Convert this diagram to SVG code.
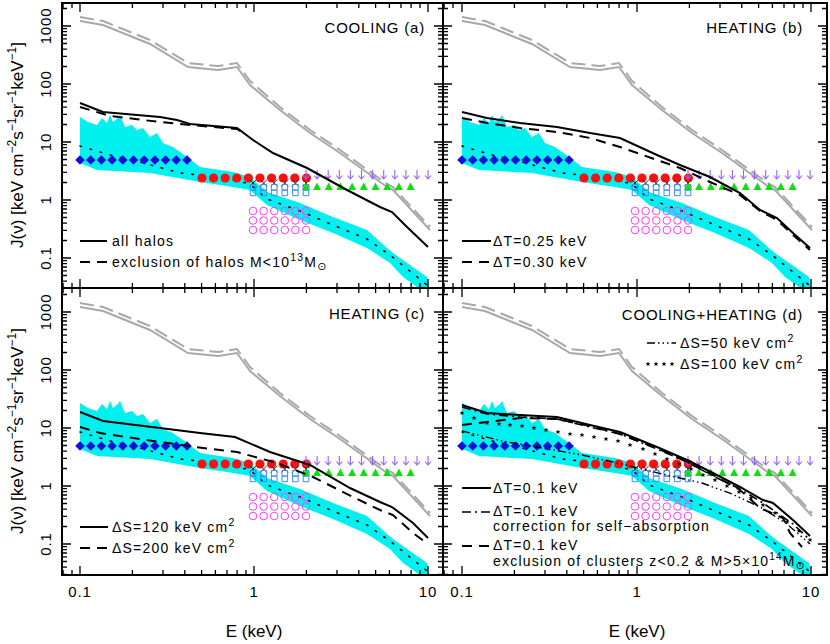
<svg xmlns="http://www.w3.org/2000/svg" xmlns:xlink="http://www.w3.org/1999/xlink" width="830" height="644" viewBox="0 0 830 644">
<style>
text{font-family:"Liberation Sans","DejaVu Sans",sans-serif;fill:#000}
.t{font-size:15px;letter-spacing:0.8px}
.lg{font-size:14px;letter-spacing:1.2px}
.fr{fill:none;stroke:#000;stroke-width:2}
.tk{fill:none;stroke:#000;stroke-width:1.3}
.gr{fill:none;stroke:#a8a8a8;stroke-width:2}
.grd{fill:none;stroke:#a8a8a8;stroke-width:2;stroke-dasharray:14 6}
.bk{fill:none;stroke:#000;stroke-width:2}
.bd{fill:none;stroke:#000;stroke-width:2;stroke-dasharray:10 7}
.bdd{fill:none;stroke:#000;stroke-width:1.6;stroke-dasharray:9 4 2 4}
.bd3{fill:none;stroke:#000;stroke-width:1.4;stroke-dasharray:8 3 1.5 3 1.5 3 1.5 3}
.dot{fill:none;stroke:#000;stroke-width:1.6;stroke-dasharray:1.5 9;stroke-linecap:round}
.band{fill:#00f0f0}
</style>
<defs>
<clipPath id="cA"><rect x="62" y="3" width="381" height="285"/></clipPath>
<clipPath id="cB"><rect x="443" y="3" width="384" height="285"/></clipPath>
<clipPath id="cC"><rect x="62" y="288" width="381" height="287"/></clipPath>
<clipPath id="cD"><rect x="443" y="288" width="384" height="287"/></clipPath>
<path id="ydL" class="tk" d="M0,0h9M0,-17.5h5M0,-27.7h5M0,-34.9h5M0,-40.5h5M0,-45.1h5M0,-49h5M0,-52.4h5M0,-55.3h5"/>
<path id="ydR" class="tk" d="M0,0h-9M0,-17.5h-5M0,-27.7h-5M0,-34.9h-5M0,-40.5h-5M0,-45.1h-5M0,-49h-5M0,-52.4h-5M0,-55.3h-5"/>
<path id="xdB" class="tk" d="M0,0v-9M52.4,0v-5M83,0v-5M104.8,0v-5M121.6,0v-5M135.4,0v-5M147,0v-5M157.1,0v-5M166,0v-5"/>
<path id="xdT" class="tk" d="M0,0v9M52.4,0v5M83,0v5M104.8,0v5M121.6,0v5M135.4,0v5M147,0v5M157.1,0v5M166,0v5"/>
<path id="dia" d="M0,-4.8L4.8,0L0,4.8L-4.8,0Z" fill="#1010d8"/>
<circle id="red" r="4.6" fill="#ff1010"/>
<path id="crs" d="M-3.5,-3.5L3.5,3.5M-3.5,3.5L3.5,-3.5" stroke="#333" stroke-width="1" fill="none"/>
<path id="sq" d="M-2.8,-15.5h5.6v5.6h-5.6zM-2.8,-9.9h5.6v5.6h-5.6z" stroke="#3a8cff" stroke-width="1" fill="none"/>
<circle id="mg" r="3.8" stroke="#ff40ff" stroke-width="1" fill="none"/>
<path id="arr" d="M0,-30V-21M-3,-24.5L0,-21L3,-24.5" stroke="#9960ff" stroke-width="1.1" fill="none"/>
<path id="tri" d="M0,-17.5L4,-10L-4,-10Z" fill="#10dd10"/>
<path id="star" d="M0,-2.6L0.7,-0.8L2.5,-0.8L1.1,0.3L1.6,2.1L0,1L-1.6,2.1L-1.1,0.3L-2.5,-0.8L-0.7,-0.8Z" fill="#000"/>
<g id="common">
<path class="band" d="M0,-83L8,-78L17,-75L22,-82L27,-77L30,-85L33,-78L38,-82L40,-85L45,-73L52,-75L57,-70L63,-72L70,-63L77,-67L83,-57L93,-53L107,-43L120,-33L153,-28L170,-23L187,-8L220,3L253,17L287,30L307,48L313,53L347,77L350,92L337,87L323,77L310,63L287,48L253,33L220,20L187,5L170,-10L153,-13L120,-18L70,-27L17,-30L0,-37Z"/>
<path class="dot" d="M0,-54L30,-45L60,-38L100,-27L120,-25L153,-20L170,-16L187,-1L220,11L253,25L287,39L310,55L347,85"/>
<path class="gr" d="M0,-179L23,-175L70,-156L108,-133L138,-130L157,-133L170,-115L200,-90L230,-67L260,-47L307,-13L313,-10L350,30"/>
<path class="grd" d="M0,-183L23,-179L70,-160L108,-137L138,-134L157,-137L170,-119L200,-93L230,-70L260,-50L307,-16L313,-13L350,27"/>
<g>
<use href="#dia" x="0" y="-40"/><use href="#dia" x="10.7" y="-40"/><use href="#dia" x="21.4" y="-40"/><use href="#dia" x="32.1" y="-40"/><use href="#dia" x="42.8" y="-40"/><use href="#dia" x="53.5" y="-40"/><use href="#dia" x="64.2" y="-40"/><use href="#dia" x="74.9" y="-40"/><use href="#dia" x="85.6" y="-40"/><use href="#dia" x="96.3" y="-40"/><use href="#dia" x="107" y="-40"/>
</g>
<g>
<use href="#red" x="122" y="-22"/><use href="#red" x="133.6" y="-22"/><use href="#red" x="145.2" y="-22"/><use href="#red" x="156.8" y="-22"/><use href="#red" x="168.4" y="-22"/><use href="#red" x="180" y="-22"/><use href="#red" x="191.6" y="-22"/><use href="#red" x="203.2" y="-22"/><use href="#red" x="214.8" y="-22"/><use href="#red" x="226.4" y="-22"/>
</g>
<g>
<use href="#crs" x="173" y="-17"/><use href="#crs" x="183.6" y="-17"/><use href="#crs" x="194.2" y="-17"/><use href="#crs" x="204.8" y="-17"/><use href="#crs" x="215.4" y="-17"/><use href="#crs" x="226" y="-17"/>
<use href="#sq" x="173" y="0"/><use href="#sq" x="183.6" y="0"/><use href="#sq" x="194.2" y="0"/><use href="#sq" x="204.8" y="0"/><use href="#sq" x="215.4" y="0"/><use href="#sq" x="226" y="0"/>
</g>
<g>
<use href="#mg" x="173" y="11"/><use href="#mg" x="183.6" y="11"/><use href="#mg" x="194.2" y="11"/><use href="#mg" x="204.8" y="11"/><use href="#mg" x="215.4" y="11"/><use href="#mg" x="226" y="11"/>
<use href="#mg" x="173" y="20.5"/><use href="#mg" x="183.6" y="20.5"/><use href="#mg" x="194.2" y="20.5"/><use href="#mg" x="204.8" y="20.5"/><use href="#mg" x="215.4" y="20.5"/><use href="#mg" x="226" y="20.5"/>
<use href="#mg" x="173" y="30"/><use href="#mg" x="183.6" y="30"/><use href="#mg" x="194.2" y="30"/><use href="#mg" x="204.8" y="30"/><use href="#mg" x="215.4" y="30"/><use href="#mg" x="226" y="30"/>
</g>
<g>
<use href="#arr" x="226"/><use href="#arr" x="237.1"/><use href="#arr" x="248.2"/><use href="#arr" x="259.3"/><use href="#arr" x="270.4"/><use href="#arr" x="281.5"/><use href="#arr" x="292.6"/><use href="#arr" x="303.7"/><use href="#arr" x="314.8"/><use href="#arr" x="325.9"/><use href="#arr" x="337"/><use href="#arr" x="348.1"/>
</g>
<g>
<use href="#tri" x="226"/><use href="#tri" x="237"/><use href="#tri" x="248.7"/><use href="#tri" x="260.4"/><use href="#tri" x="272.1"/><use href="#tri" x="283.8"/><use href="#tri" x="295.5"/><use href="#tri" x="307.2"/><use href="#tri" x="318.9"/><use href="#tri" x="330.6"/>
</g>
</g>
<g id="yl">
<text class="t" transform="rotate(-90 51 26)" x="51" y="26" text-anchor="middle">1000</text>
<text class="t" transform="rotate(-90 51 84)" x="51" y="84" text-anchor="middle">100</text>
<text class="t" transform="rotate(-90 51 142)" x="51" y="142" text-anchor="middle">10</text>
<text class="t" transform="rotate(-90 51 200)" x="51" y="200" text-anchor="middle">1</text>
<text class="t" transform="rotate(-90 51 258)" x="51" y="258" text-anchor="middle">0.1</text>
<text transform="rotate(-90 23 145)" x="23" y="145" text-anchor="middle" font-size="17">J(ν)  [keV cm<tspan font-size="12" dy="-7">−2</tspan><tspan dy="7">s</tspan><tspan font-size="12" dy="-7">−1</tspan><tspan dy="7">sr</tspan><tspan font-size="12" dy="-7">−1</tspan><tspan dy="7">keV</tspan><tspan font-size="12" dy="-7">−1</tspan><tspan dy="7">]</tspan></text>
</g>
</defs>

<g id="panel-a">
<g clip-path="url(#cA)">
<g transform="translate(80,200)">
<use href="#common"/>
<path class="bk" d="M0,-97L23,-88L80,-83L97,-80L110,-76L157,-72L173,-60L193,-47L227,-32L267,-10L300,7L312,12L327,27L348,47"/>
<path class="bd" d="M0,-93L30,-84L80,-78L110,-75L157,-71L165,-66"/>
</g>
<use href="#ydL" x="62" y="26"/><use href="#ydL" x="62" y="84"/><use href="#ydL" x="62" y="142"/><use href="#ydL" x="62" y="200"/><use href="#ydL" x="62" y="258"/><use href="#ydL" x="62" y="316"/>
<use href="#ydR" x="443" y="26"/><use href="#ydR" x="443" y="84"/><use href="#ydR" x="443" y="142"/><use href="#ydR" x="443" y="200"/><use href="#ydR" x="443" y="258"/><use href="#ydR" x="443" y="316"/>
<use href="#xdB" x="-94" y="288"/><use href="#xdB" x="80" y="288"/><use href="#xdB" x="254" y="288"/><use href="#xdB" x="428" y="288"/>
<use href="#xdT" x="-94" y="3"/><use href="#xdT" x="80" y="3"/><use href="#xdT" x="254" y="3"/><use href="#xdT" x="428" y="3"/>
</g>
<text class="t" x="425" y="33" text-anchor="end">COOLING (a)</text>
<path class="bk" d="M80,241H107"/><text class="lg" x="112" y="246">all halos</text>
<path class="bd" d="M80,262H110"/><text class="lg" x="112" y="267">exclusion of halos M&lt;10<tspan font-size="10.5" dy="-6">13</tspan><tspan dy="6">M</tspan><tspan font-size="11" dy="3">⊙</tspan></text>
</g>

<g id="panel-b">
<g clip-path="url(#cB)">
<g transform="translate(462,200)">
<use href="#common"/>
<path class="bk" d="M0,-88L25,-82L58,-77L95,-73L128,-67L158,-62L195,-45L218,-35L248,-23L278,-7L298,10L315,18L331,33L348,48"/>
<path class="bd" d="M0,-82L25,-77L58,-72L95,-68L128,-62L158,-53L195,-40L218,-32L248,-18L278,-5L298,11L315,20L331,35L348,50"/>
</g>
<use href="#ydL" x="443" y="26"/><use href="#ydL" x="443" y="84"/><use href="#ydL" x="443" y="142"/><use href="#ydL" x="443" y="200"/><use href="#ydL" x="443" y="258"/><use href="#ydL" x="443" y="316"/>
<use href="#ydR" x="827" y="26"/><use href="#ydR" x="827" y="84"/><use href="#ydR" x="827" y="142"/><use href="#ydR" x="827" y="200"/><use href="#ydR" x="827" y="258"/><use href="#ydR" x="827" y="316"/>
<use href="#xdB" x="287" y="288"/><use href="#xdB" x="462" y="288"/><use href="#xdB" x="637" y="288"/><use href="#xdB" x="811" y="288"/>
<use href="#xdT" x="287" y="3"/><use href="#xdT" x="462" y="3"/><use href="#xdT" x="637" y="3"/><use href="#xdT" x="811" y="3"/>
</g>
<text class="t" x="803" y="33" text-anchor="end">HEATING (b)</text>
<path class="bk" d="M462,241H491"/><text class="lg" x="493" y="246">ΔT=0.25  keV</text>
<path class="bd" d="M462,262H492"/><text class="lg" x="493" y="267">ΔT=0.30  keV</text>
</g>

<g id="panel-c">
<g clip-path="url(#cC)">
<g transform="translate(80,486)">
<use href="#common"/>
<path class="bk" d="M0,-74L23,-65L80,-58L120,-53L155,-49L190,-34L230,-21L270,2L300,16L312,21L333,37L348,52"/>
<path class="bd" d="M0,-59L20,-53L80,-44L123,-38L157,-34L197,-23L233,-9L273,11L300,24L313,29L333,47L348,58"/>
</g>
<use href="#ydL" x="62" y="312"/><use href="#ydL" x="62" y="370"/><use href="#ydL" x="62" y="428"/><use href="#ydL" x="62" y="486"/><use href="#ydL" x="62" y="544"/><use href="#ydL" x="62" y="602"/>
<use href="#ydR" x="443" y="312"/><use href="#ydR" x="443" y="370"/><use href="#ydR" x="443" y="428"/><use href="#ydR" x="443" y="486"/><use href="#ydR" x="443" y="544"/><use href="#ydR" x="443" y="602"/>
<use href="#xdB" x="-94" y="575"/><use href="#xdB" x="80" y="575"/><use href="#xdB" x="254" y="575"/><use href="#xdB" x="428" y="575"/>
<use href="#xdT" x="-94" y="288"/><use href="#xdT" x="80" y="288"/><use href="#xdT" x="254" y="288"/><use href="#xdT" x="428" y="288"/>
</g>
<text class="t" x="425" y="319" text-anchor="end">HEATING (c)</text>
<path class="bk" d="M80,527H108"/><text class="lg" x="112" y="532">ΔS=120  keV  cm<tspan font-size="10.5" dy="-6">2</tspan></text>
<path class="bd" d="M80,548H110"/><text class="lg" x="112" y="553">ΔS=200  keV  cm<tspan font-size="10.5" dy="-6">2</tspan></text>
</g>

<g id="panel-d">
<g clip-path="url(#cD)">
<g transform="translate(462,486)">
<use href="#common"/>
<path class="bd3" d="M0,-55L40,-45L80,-38L120,-31L160,-22L200,-12L240,-3L270,8L300,22L325,38L348,58"/>
<path class="bd" d="M0,-61L25,-64L58,-68L95,-67L128,-60L158,-52L195,-38L225,-24L251,-11L278,4L298,22L321,32L328,47L340,61"/>
<path class="bdd" d="M0,-79L25,-72L58,-69L95,-67L128,-59L158,-52L195,-37L225,-24L251,-10L278,3L301,17L331,38L348,54"/>
<path class="bk" d="M0,-81L25,-73L58,-71L95,-69L128,-61L158,-54L195,-39L225,-26L251,-13L278,1L301,14L311,17L331,34L348,50"/>
<g>
<use href="#star" x="0" y="-73"/><use href="#star" x="12" y="-68"/><use href="#star" x="25" y="-63"/><use href="#star" x="37" y="-62"/><use href="#star" x="48" y="-61"/><use href="#star" x="60" y="-60"/><use href="#star" x="72" y="-58"/><use href="#star" x="84" y="-56"/><use href="#star" x="96" y="-54"/><use href="#star" x="108" y="-52"/><use href="#star" x="120" y="-51"/><use href="#star" x="132" y="-49"/><use href="#star" x="144" y="-47"/><use href="#star" x="156" y="-45"/><use href="#star" x="168" y="-41"/><use href="#star" x="181" y="-37"/><use href="#star" x="193" y="-32"/><use href="#star" x="205" y="-27"/><use href="#star" x="217" y="-22"/><use href="#star" x="229" y="-17"/><use href="#star" x="241" y="-11"/><use href="#star" x="253" y="-6"/><use href="#star" x="265" y="0"/><use href="#star" x="277" y="6"/><use href="#star" x="289" y="12"/><use href="#star" x="301" y="19"/><use href="#star" x="313" y="27"/><use href="#star" x="325" y="36"/><use href="#star" x="337" y="45"/><use href="#star" x="348" y="54"/>
</g>
</g>
<use href="#ydL" x="443" y="312"/><use href="#ydL" x="443" y="370"/><use href="#ydL" x="443" y="428"/><use href="#ydL" x="443" y="486"/><use href="#ydL" x="443" y="544"/><use href="#ydL" x="443" y="602"/>
<use href="#ydR" x="827" y="312"/><use href="#ydR" x="827" y="370"/><use href="#ydR" x="827" y="428"/><use href="#ydR" x="827" y="486"/><use href="#ydR" x="827" y="544"/><use href="#ydR" x="827" y="602"/>
<use href="#xdB" x="287" y="575"/><use href="#xdB" x="462" y="575"/><use href="#xdB" x="637" y="575"/><use href="#xdB" x="811" y="575"/>
<use href="#xdT" x="287" y="288"/><use href="#xdT" x="462" y="288"/><use href="#xdT" x="637" y="288"/><use href="#xdT" x="811" y="288"/>
</g>
<text class="t" x="803" y="320" text-anchor="end">COOLING+HEATING (d)</text>
<path class="bd3" d="M647,343H676"/><text class="lg" x="680" y="348">ΔS=50   keV  cm<tspan font-size="10.5" dy="-6">2</tspan></text>
<g><use href="#star" x="648" y="364"/><use href="#star" x="656" y="364"/><use href="#star" x="664" y="364"/><use href="#star" x="672" y="364"/></g>
<text class="lg" x="680" y="369">ΔS=100  keV  cm<tspan font-size="10.5" dy="-6">2</tspan></text>
<path class="bk" d="M462,488H491"/><text class="lg" x="493" y="493">ΔT=0.1  keV</text>
<path class="bdd" d="M462,512H492"/><text class="lg" x="493" y="516" font-size="13.5">ΔT=0.1  keV</text>
<text class="lg" x="493" y="531" font-size="13.5">correction for self−absorption</text>
<path class="bd" d="M462,546H492"/><text class="lg" x="493" y="550" font-size="13.5">ΔT=0.1  keV</text>
<text class="lg" x="493" y="566" font-size="13.5">exclusion of clusters z&lt;0.2 &amp; M&gt;5×10<tspan font-size="10" dy="-6">14</tspan><tspan dy="6">M</tspan><tspan font-size="10.5" dy="3">⊙</tspan></text>
</g>

<g id="frames">
<rect class="fr" x="62" y="3" width="381" height="285"/>
<rect class="fr" x="443" y="3" width="384" height="285"/>
<rect class="fr" x="62" y="288" width="381" height="287"/>
<rect class="fr" x="443" y="288" width="384" height="287"/>
</g>

<g id="axis-labels">
<use href="#yl"/>
<use href="#yl" y="286"/>
<text class="t" x="80" y="597" text-anchor="middle">0.1</text>
<text class="t" x="254" y="597" text-anchor="middle">1</text>
<text class="t" x="428" y="597" text-anchor="middle">10</text>
<text class="t" x="462" y="597" text-anchor="middle">0.1</text>
<text class="t" x="637" y="597" text-anchor="middle">1</text>
<text class="t" x="811" y="597" text-anchor="middle">10</text>
<text x="254" y="637" text-anchor="middle" font-size="17">E (keV)</text>
<text x="637" y="637" text-anchor="middle" font-size="17">E (keV)</text>
</g>
</svg>
